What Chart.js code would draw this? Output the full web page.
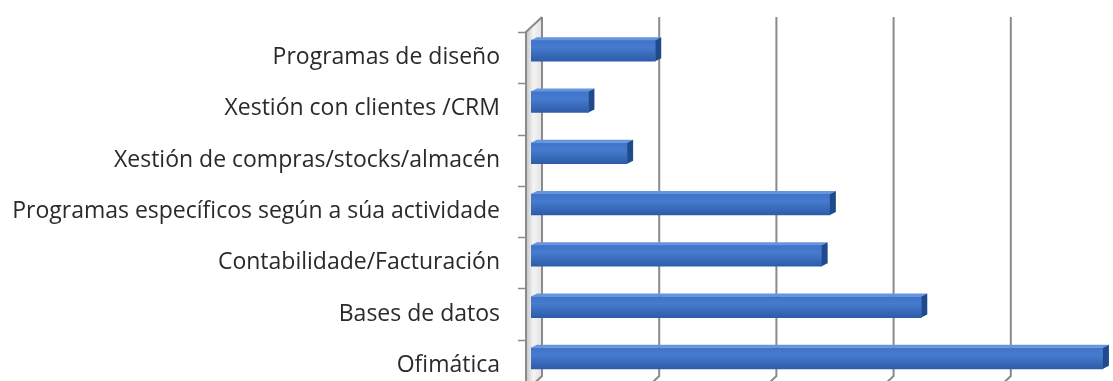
<!DOCTYPE html>
<html>
<head>
<meta charset="utf-8">
<script src="https://cdn.jsdelivr.net/npm/chart.js@4"></script>
<style>
html, body { margin: 0; padding: 0; background: #fff; overflow: hidden; }
#chart { display: block; }
</style>
</head>
<body>
<canvas id="chart" width="1120" height="392"></canvas>
<script>
const categories = [
    'Programas de diseño',
    'Xestión con clientes /CRM',
    'Xestión de compras/stocks/almacén',
    'Programas específicos según a súa actividade',
    'Contabilidade/Facturación',
    'Bases de datos',
    'Ofimática'
];
const values = [10.6, 4.9, 8.2, 25.5, 24.8, 33.3, 48.8];
const gridValues = [0, 10, 20, 30, 40, 50];

// depth of the wall (front plane -> back plane) and of each bar
const wallFront = -5, wallBack = 11, wallRise = 15;
const barDx = 6, barDy = 3, barLift = -7;

const wallPlugin = {
    id: 'wall3d',
    beforeDatasetsDraw(chart) {
        const ctx = chart.ctx;
        const area = chart.chartArea;
        const xs = chart.scales.x;
        const fx = area.left + wallFront;
        const bx = area.left + wallBack;
        const top = area.top, bottom = area.bottom;

        // left wall
        ctx.save();
        const g = ctx.createLinearGradient(fx, 0, bx, 0);
        g.addColorStop(0, '#c4c4c4');
        g.addColorStop(0.45, '#f4f4f4');
        g.addColorStop(1, '#e2e2e2');
        ctx.fillStyle = g;
        ctx.beginPath();
        ctx.moveTo(fx, top);
        ctx.lineTo(bx, top - wallRise);
        ctx.lineTo(bx, bottom - wallRise);
        ctx.lineTo(fx, bottom);
        ctx.closePath();
        ctx.fill();
        ctx.strokeStyle = '#8a8a8a';
        ctx.lineWidth = 2;
        ctx.beginPath();
        ctx.moveTo(fx, bottom);
        ctx.lineTo(fx, top);
        ctx.lineTo(bx, top - wallRise);
        ctx.stroke();

        // back gridlines with their floor edge
        gridValues.forEach(v => {
            const x = xs.getPixelForValue(v) + wallBack;
            ctx.beginPath();
            ctx.moveTo(x, top - wallRise);
            ctx.lineTo(x, bottom - wallRise);
            ctx.lineTo(x - (wallBack - wallFront), bottom);
            ctx.stroke();
        });

        // category tick marks on the front edge
        ctx.lineWidth = 1.5;
        const band = (bottom - top) / categories.length;
        for (let i = 0; i <= categories.length; i++) {
            const y = Math.round(top + band * i) + 0.5;
            ctx.beginPath();
            ctx.moveTo(fx - 8, y);
            ctx.lineTo(fx, y);
            ctx.stroke();
        }
        ctx.restore();

        ctx.save();
        ctx.translate(0, barLift);
    },
    afterDatasetsDraw(chart) {
        const ctx = chart.ctx;
        const meta = chart.getDatasetMeta(0);
        meta.data.forEach(bar => {
            const { x, y, base, height } = bar.getProps(['x', 'y', 'base', 'height'], true);
            const t = y - height / 2, b = y + height / 2;
            // top face
            ctx.fillStyle = '#6595de';
            ctx.beginPath();
            ctx.moveTo(base, t);
            ctx.lineTo(base + barDx, t - barDy);
            ctx.lineTo(x + barDx, t - barDy);
            ctx.lineTo(x, t);
            ctx.closePath();
            ctx.fill();
            // side face
            ctx.fillStyle = '#1f4a8c';
            ctx.beginPath();
            ctx.moveTo(x, t);
            ctx.lineTo(x + barDx, t - barDy);
            ctx.lineTo(x + barDx, b - barDy);
            ctx.lineTo(x, b);
            ctx.closePath();
            ctx.fill();
        });
        ctx.restore();
    }
};

function frontFace(c) {
    const chart = c.chart;
    if (!chart.chartArea || !chart.scales.y) return '#3a6cc0';
    const y = chart.scales.y.getPixelForValue(c.dataIndex);
    const g = chart.ctx.createLinearGradient(0, y - 11, 0, y + 11);
    g.addColorStop(0, '#3f73c8');
    g.addColorStop(0.35, '#467bce');
    g.addColorStop(1, '#2c5ba8');
    return g;
}

new Chart(document.getElementById('chart'), {
    type: 'bar',
    data: {
        labels: categories,
        datasets: [{
            data: values,
            backgroundColor: frontFace,
            borderWidth: 0,
            barThickness: 21
        }]
    },
    options: {
        indexAxis: 'y',
        responsive: false,
        animation: false,
        layout: { padding: { left: 0, right: 3, top: 32, bottom: 1 } },
        plugins: { legend: { display: false }, tooltip: { enabled: false } },
        scales: {
            x: {
                display: false,
                min: 0,
                max: 50
            },
            y: {
                afterFit(scale) {
                    scale.width = 531;
                    scale.paddingTop = 0;
                    scale.paddingBottom = 0;
                },
                grid: { display: false },
                border: { display: false },
                ticks: {
                    padding: 23,
                    color: '#2a2a2a',
                    font: { family: 'Open Sans', size: 23 }
                }
            }
        }
    },
    plugins: [wallPlugin]
});
</script>
</body>
</html>
